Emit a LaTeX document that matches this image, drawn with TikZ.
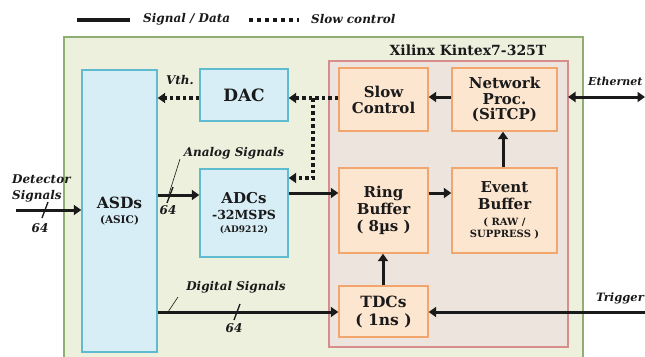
\documentclass[tikz,border=0pt]{standalone}
\usepackage{fontspec}
\setmainfont{DejaVu Serif}
\usetikzlibrary{arrows.meta}
\definecolor{gfill}{HTML}{EEF0DE}
\definecolor{gline}{HTML}{8FAE72}
\definecolor{rfill}{HTML}{EDE5DD}
\definecolor{rline}{HTML}{D98C8C}
\definecolor{ofill}{HTML}{FDE6D0}
\definecolor{oline}{HTML}{F2A56C}
\definecolor{bfill}{HTML}{D8EEF6}
\definecolor{bline}{HTML}{5EBBD0}
\definecolor{ink}{HTML}{1A1A1A}
\begin{document}
\begin{tikzpicture}[x=1pt,y=-1pt,
  box/.style={draw, line width=1.4pt, inner sep=0pt, align=center, text=ink},
  bluebox/.style={box, draw=bline, fill=bfill},
  orbox/.style={box, draw=oline, fill=ofill},
  sig/.style={draw=ink, line width=3pt, -{Triangle[length=7.5pt,width=10pt]}},
  slow/.style={draw=ink, line width=3.5pt, dash pattern=on 3.5pt off 3pt, -{Triangle[length=7.5pt,width=10pt]}},
  lab/.style={font=\bfseries\itshape\fontsize{12}{14}\selectfont, text=ink, inner sep=0pt},
]
\useasboundingbox (0,0) rectangle (645,356);
\clip (0,0) rectangle (645,356);
\fill[white] (0,0) rectangle (645,356);

% legend
\draw[ink, line width=4pt] (77,20) -- (130,20);
\node[lab, anchor=west] (lsig) at (143,19) {Signal / Data};
\draw[ink, line width=4pt, dash pattern=on 4pt off 4pt] (249,20) -- (299,20);
\node[lab, anchor=west] (lslow) at (311,19) {Slow control};

% green board
\draw[gline, fill=gfill, line width=1.4pt] (64,37) rectangle (583,370);
\node[font=\bfseries\fontsize{14}{16}\selectfont, text=ink] (fpga) at (468,50) {Xilinx Kintex7-325T};
% red FPGA
\draw[rline, fill=rfill, line width=1.4pt] (329,61) rectangle (568,347);
\coordinate (redE) at (568,97);

% boxes
\node[bluebox, minimum width=75pt, minimum height=282pt, font=\bfseries\fontsize{15.5}{15}\selectfont] (asd) at (119.5,211)
  {ASDs\\{\fontsize{10.5}{12}\selectfont (ASIC)}};
\node[bluebox, minimum width=88pt, minimum height=52pt, font=\bfseries\fontsize{17}{18}\selectfont] (dac) at (244,95)
  {DAC};
\node[bluebox, minimum width=88pt, minimum height=88pt, font=\bfseries\fontsize{15}{16}\selectfont] (adc) at (244,213)
  {ADCs\\{\fontsize{12.5}{14}\selectfont -32MSPS}\\[-3pt]{\fontsize{9}{11}\selectfont (AD9212)}};
\node[orbox, minimum width=89pt, minimum height=63pt, font=\bfseries\fontsize{15}{16}\selectfont] (sc) at (383.5,99.5)
  {Slow\\Control};
\node[orbox, minimum width=105pt, minimum height=63pt, font=\bfseries\fontsize{15}{15.5}\selectfont] (net) at (504.5,99.5)
  {Network\\Proc.\\(SiTCP)};
\node[orbox, minimum width=89pt, minimum height=85pt, font=\bfseries\fontsize{15}{17}\selectfont] (ring) at (383.5,210.5)
  {Ring\\Buffer\\( 8\textmu s )};
\node[orbox, minimum width=105pt, minimum height=85pt, font=\bfseries\fontsize{15}{17}\selectfont] (evt) at (504.5,210.5)
  {Event\\Buffer\\[-1pt]{\fontsize{10}{12}\selectfont ( RAW /}\\[-5pt]{\fontsize{10}{12}\selectfont SUPPRESS )}};
\node[orbox, minimum width=89pt, minimum height=51pt, font=\bfseries\fontsize{15.5}{18}\selectfont] (tdc) at (383.5,311.5)
  {TDCs\\( 1ns )};

% external ends
\coordinate (ethE) at (645,97);
\coordinate (trgE) at (645,312);
\coordinate (detW) at (16,210);
\node[lab, anchor=west, font=\bfseries\itshape\fontsize{11}{13}\selectfont] (leth) at (588,81) {Ethernet};
\node[lab, anchor=west, font=\bfseries\itshape\fontsize{11.5}{13}\selectfont] (ltrg) at (596,298) {Trigger};
\node[lab, anchor=west, align=left, font=\bfseries\itshape\fontsize{12}{16}\selectfont] (ldet) at (12,188) {Detector\\Signals};

% signal arrows
\draw[sig, {Triangle[length=7.5pt,width=10pt]}-{Triangle[length=7.5pt,width=10pt]}] (redE) -- (ethE);
\draw[sig] (net.west |- 0,97) -- (sc.east |- 0,97);
\draw[sig] (evt.north -| 503,0) -- (net.south -| 503,0);
\draw[sig] (ring.east |- 0,193) -- (evt.west |- 0,193);
\draw[sig] (tdc.north -| 383,0) -- (ring.south -| 383,0);
\draw[sig] (trgE) -- (tdc.east |- trgE);
\draw[sig] (adc.east |- 0,193) -- (ring.west |- 0,193);
\draw[sig] (asd.east |- 0,312) -- (tdc.west |- 0,312);
\draw[sig] (asd.east |- 0,195) -- (adc.west |- 0,195);
\draw[sig] (detW) -- (asd.west |- detW);

% slow control
\coordinate (j) at (313,98);
\coordinate (k) at (313,178);
\draw[slow] (sc.west |- j) -- (dac.east |- j);
\draw[slow] (j) -- (k) -- (adc.east |- k);
\draw[slow] (dac.west |- j) -- (asd.east |- j);
\node[lab] (lvth) at (180,80) {Vth.};

% bus marks
\draw[ink, line width=1.3pt] (42,218) -- (48,202);
\node[lab] (n1) at (40,228) {64};
\draw[ink, line width=1.3pt] (167,203) -- (173,187);
\node[lab] (n2) at (168,210) {64};
\draw[ink, line width=1.3pt] (234,320) -- (240,304);
\node[lab] (n3) at (234,328) {64};

\node[lab] (lana) at (234,153) {Analog Signals};
\draw[ink, line width=0.6pt] (180,159) -- (168,197);
\node[lab] (ldig) at (236,287) {Digital Signals};
\draw[ink, line width=0.6pt] (178,297) -- (168,312);
\end{tikzpicture}
\end{document}
